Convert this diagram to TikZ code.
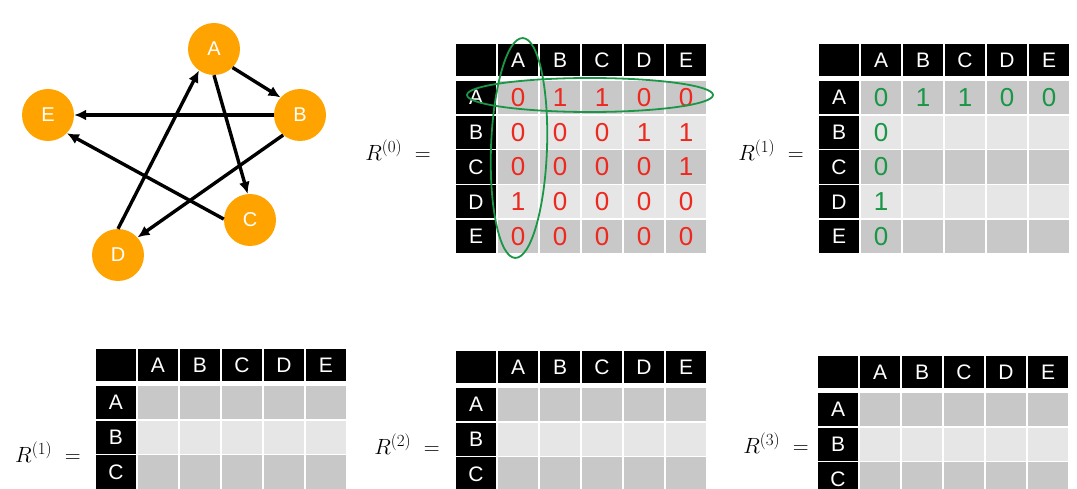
\RequirePackage{fix-cm}
\documentclass[tikz,border=0pt]{standalone}
\usepackage{fontspec}
\setsansfont{Liberation Sans}
\usetikzlibrary{arrows.meta, positioning}
\usepackage{xcolor}
\usepackage{amsmath}
\DeclareMathSizes{22}{22}{17}{13}
\definecolor{vtxorange}{RGB}{255,163,0}
\definecolor{celldark}{RGB}{200,200,200}
\definecolor{celllight}{RGB}{230,230,230}
\definecolor{penred}{RGB}{238,40,30}
\definecolor{pengreen}{RGB}{25,150,70}

\begin{document}
\begin{tikzpicture}[x=1pt, y=-1pt, >=Stealth,
        vtx/.style={circle, fill=vtxorange, text=white, minimum size=52pt,
                    inner sep=0pt, font=\sffamily\fontsize{20}{20}\selectfont},
        link/.style={-{Latex[length=12pt, width=11pt]}, line width=3.4pt},
        hd/.style={fill=black, draw=white, line width=1.5pt, text=white,
                   minimum width=42pt, minimum height=34.8pt, inner sep=0pt,
                   font=\sffamily\fontsize{21}{21}\selectfont},
        cellA/.style={hd, fill=celldark},
        cellB/.style={hd, fill=celllight},
        redno/.style={text=penred, font=\sffamily\fontsize{26}{26}\selectfont},
        grnno/.style={text=pengreen, font=\sffamily\fontsize{26}{26}\selectfont},
        pen/.style={draw=pengreen, line width=1.8pt},
        lbl/.style={font=\fontsize{22}{26}\selectfont}]
      \clip (0,0) rectangle (1077,489);
      % graph
      \node[vtx] (A) at (214,49)  {A};
      \node[vtx] (B) at (300,115) {B};
      \node[vtx] (C) at (250,220) {C};
      \node[vtx] (D) at (118,255) {D};
      \node[vtx] (E) at (48,115)  {E};
      \draw[link] (A.-45) -- (B.138);
      \draw[link] (A.270) -- (C.95);
      \draw[link] (B.180) -- (E.0);
      \draw[link] (B.230) -- (D.42);
      \draw[link] (C.178) -- (E.-44);
      \draw[link] (D.90)  -- (A.235);
      % tables
      \foreach \tn/\tx/\ty/\nr in {R0/455/43/5, R1/818/43/5, Sa/95/348/3, Sb/455/350/3, Sc/817/355/3}{
        \node[hd, minimum height=34pt] (\tn-00) at (\tx+21,\ty+17) {};
        \foreach \c [count=\j] in {A,B,C,D,E}{
          \node[hd, minimum height=34pt] (\tn-0\j) at (\tx+21+42*\j,\ty+17) {\c};
          \ifnum\j>\nr\relax\else
            \node[hd] (\tn-\j0) at (\tx+21,\ty+19.6+34.8*\j) {\c};
            \foreach \k in {1,...,5}{
              \ifodd\j\relax
                \node[cellA] (\tn-\j\k) at (\tx+21+42*\k,\ty+19.6+34.8*\j) {};
              \else
                \node[cellB] (\tn-\j\k) at (\tx+21+42*\k,\ty+19.6+34.8*\j) {};
              \fi
            }
          \fi
        }
      }
      \node[lbl] (lR0) at (398,150) {$R^{(0)}\ =$};
      \node[lbl] (lR1) at (771,150) {$R^{(1)}\ =$};
      \node[lbl] (lSa) at (48,452)  {$R^{(1)}\ =$};
      \node[lbl] (lSb) at (407,444) {$R^{(2)}\ =$};
      \node[lbl] (lSc) at (776,443) {$R^{(3)}\ =$};
      % red entries
      \foreach \v [count=\k] in {0,1,1,0,0} \node[redno] (n0-1\k) at (R0-1\k) {\v};
      \foreach \v [count=\k] in {0,0,0,1,1} \node[redno] (n0-2\k) at (R0-2\k) {\v};
      \foreach \v [count=\k] in {0,0,0,0,1} \node[redno] (n0-3\k) at (R0-3\k) {\v};
      \foreach \v [count=\k] in {1,0,0,0,0} \node[redno] (n0-4\k) at (R0-4\k) {\v};
      \foreach \v [count=\k] in {0,0,0,0,0} \node[redno] (n0-5\k) at (R0-5\k) {\v};
      % green marks
      \draw[pen] (590,95) ellipse [x radius=123pt, y radius=17pt];
      \draw[pen, rotate around={-2:(519,148)}] (519,148) ellipse [x radius=28pt, y radius=110pt];
      \foreach \v [count=\k] in {0,1,1,0,0} \node[grnno] (n1-1\k) at (R1-1\k) {\v};
      \foreach \v [count=\k from 2] in {0,0,1,0} \node[grnno] (n1-\k1) at (R1-\k1) {\v};
    \end{tikzpicture}
\end{document}
